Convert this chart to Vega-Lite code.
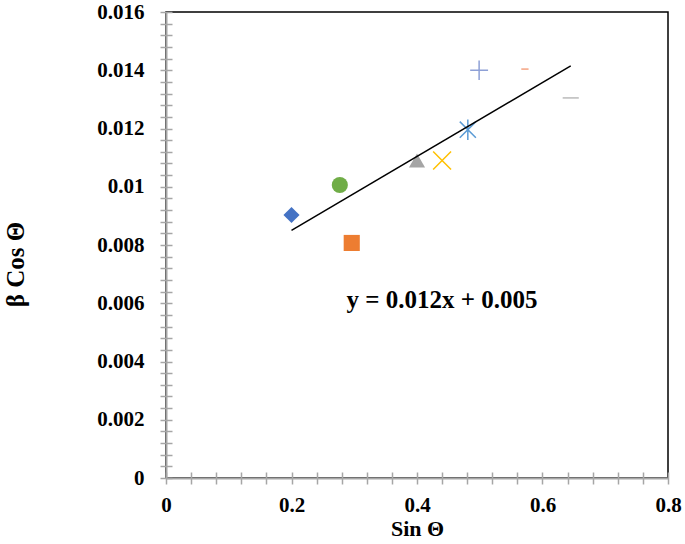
{
  "$schema": "https://vega.github.io/schema/vega-lite/v6.json",
  "width": 502,
  "height": 466,
  "autosize": {"type": "none"},
  "padding": {"left": 166, "top": 12, "right": 17, "bottom": 66},
  "background": "white",
  "config": {
    "view": {"stroke": "black", "strokeWidth": 1.5},
    "font": "Liberation Serif"
  },
  "data": {
    "values": [
      {"series": "diamond", "sin": 0.2, "beta": 0.00903},
      {"series": "square", "sin": 0.296, "beta": 0.00807},
      {"series": "circle", "sin": 0.277, "beta": 0.01006},
      {"series": "triangle", "sin": 0.4, "beta": 0.0109},
      {"series": "xmark", "sin": 0.44, "beta": 0.0109},
      {"series": "asterisk", "sin": 0.481, "beta": 0.01196},
      {"series": "plus", "sin": 0.499, "beta": 0.014},
      {"series": "reddash", "sin": 0.572, "beta": 0.01404},
      {"series": "graydash", "sin": 0.645, "beta": 0.01305}
    ]
  },
  "resolve": {"axis": {"x": "independent", "y": "independent"}},
  "layer": [
    {
      "transform": [{"filter": {"field": "series", "oneOf": ["diamond", "square", "circle", "triangle", "reddash", "graydash"]}}],
      "mark": {"type": "point", "filled": true, "opacity": 1, "size": 260},
      "encoding": {
        "x": {
          "field": "sin", "type": "quantitative",
          "scale": {"domain": [0, 0.8], "nice": false, "zero": true},
          "axis": {
            "orient": "bottom",
            "values": [0, 0.2, 0.4, 0.6, 0.8],
            "format": "~g",
            "grid": false,
            "ticks": false,
            "domainColor": "#A6A6A6",
            "domainWidth": 2,
            "labelFont": "Liberation Serif",
            "labelFontWeight": "bold",
            "labelFontSize": 21,
            "labelColor": "black",
            "labelPadding": 16,
            "labelFlush": false,
            "title": "Sin Θ",
            "titleFont": "Liberation Serif",
            "titleFontWeight": "bold",
            "titleFontSize": 22,
            "titleColor": "black",
            "titlePadding": 3
          }
        },
        "y": {
          "field": "beta", "type": "quantitative",
          "scale": {"domain": [0, 0.016], "nice": false, "zero": true},
          "axis": {
            "orient": "left",
            "values": [0, 0.002, 0.004, 0.006, 0.008, 0.01, 0.012, 0.014, 0.016],
            "format": "~g",
            "grid": false,
            "ticks": false,
            "domainColor": "#A6A6A6",
            "domainWidth": 2,
            "labelFont": "Liberation Serif",
            "labelFontWeight": "bold",
            "labelFontSize": 21,
            "labelColor": "black",
            "labelPadding": 22,
            "labelFlush": false,
            "title": "β Cos Θ",
            "titleFont": "Liberation Serif",
            "titleFontWeight": "bold",
            "titleFontSize": 25,
            "titleColor": "black",
            "titlePadding": 68,
            "titleY": 252
          }
        },
        "shape": {
          "field": "series", "type": "nominal", "legend": null,
          "scale": {
            "domain": ["diamond", "square", "circle", "triangle", "reddash", "graydash", "xmark", "asterisk", "plus"],
            "range": ["diamond", "square", "circle", "triangle-up", "M-0.45,-0.09H0.45V0.09H-0.45Z", "M-1,-0.1H1V0.1H-1Z", "M-1,-1L1,1M-1,1L1,-1", "M-0.9,-0.9L0.9,0.9M-0.9,0.9L0.9,-0.9M0,-1.15L0,1.15", "M-1,0H1M0,-1.1V1.1"]
          }
        },
        "color": {
          "field": "series", "type": "nominal", "legend": null,
          "scale": {
            "domain": ["diamond", "square", "circle", "triangle", "reddash", "graydash", "xmark", "asterisk", "plus"],
            "range": ["#4472C4", "#ED7D31", "#70AD47", "#A5A5A5", "#F4A07E", "#BFBFBF", "#FFC000", "#5B9BD5", "#8EA0D6"]
          }
        }
      }
    },
    {
      "transform": [{"filter": {"field": "series", "oneOf": ["xmark", "asterisk", "plus"]}}],
      "mark": {"type": "point", "filled": false, "opacity": 1, "size": 320, "strokeWidth": 1.5},
      "encoding": {
        "x": {
          "field": "sin", "type": "quantitative",
          "scale": {"domain": [0, 0.8], "nice": false, "zero": true},
          "axis": {
            "orient": "bottom",
            "values": [0, 0.04, 0.08, 0.12, 0.16, 0.2, 0.24, 0.28, 0.32, 0.36, 0.4, 0.44, 0.48, 0.52, 0.56, 0.6, 0.64, 0.68, 0.72, 0.76, 0.8],
            "grid": false,
            "domain": false,
            "labels": false,
            "ticks": true,
            "tickSize": 12,
            "tickWidth": 1.5,
            "tickColor": "#A6A6A6",
            "offset": -6,
            "title": null
          }
        },
        "y": {
          "field": "beta", "type": "quantitative",
          "scale": {"domain": [0, 0.016], "nice": false, "zero": true},
          "axis": {
            "orient": "left",
            "values": [0, 0.0004, 0.0008, 0.0012, 0.0016, 0.002, 0.0024, 0.0028, 0.0032, 0.0036, 0.004, 0.0044, 0.0048, 0.0052, 0.0056, 0.006, 0.0064, 0.0068, 0.0072, 0.0076, 0.008, 0.0084, 0.0088, 0.0092, 0.0096, 0.01, 0.0104, 0.0108, 0.0112, 0.0116, 0.012, 0.0124, 0.0128, 0.0132, 0.0136, 0.014, 0.0144, 0.0148, 0.0152, 0.0156, 0.016],
            "grid": false,
            "domain": false,
            "labels": false,
            "ticks": true,
            "tickSize": 12,
            "tickWidth": 1.5,
            "tickColor": "#A6A6A6",
            "offset": -6,
            "title": null
          }
        },
        "shape": {
          "field": "series", "type": "nominal", "legend": null,
          "scale": {
            "domain": ["diamond", "square", "circle", "triangle", "reddash", "graydash", "xmark", "asterisk", "plus"],
            "range": ["diamond", "square", "circle", "triangle-up", "M-0.45,-0.09H0.45V0.09H-0.45Z", "M-1,-0.1H1V0.1H-1Z", "M-1,-1L1,1M-1,1L1,-1", "M-0.9,-0.9L0.9,0.9M-0.9,0.9L0.9,-0.9M0,-1.15L0,1.15", "M-1,0H1M0,-1.1V1.1"]
          }
        },
        "color": {
          "field": "series", "type": "nominal", "legend": null,
          "scale": {
            "domain": ["diamond", "square", "circle", "triangle", "reddash", "graydash", "xmark", "asterisk", "plus"],
            "range": ["#4472C4", "#ED7D31", "#70AD47", "#A5A5A5", "#F4A07E", "#BFBFBF", "#FFC000", "#5B9BD5", "#8EA0D6"]
          }
        }
      }
    },
    {
      "transform": [{"regression": "beta", "on": "sin"}],
      "mark": {"type": "line", "color": "black", "strokeWidth": 1.5},
      "encoding": {
        "x": {"field": "sin", "type": "quantitative", "scale": {"domain": [0, 0.8], "nice": false}, "axis": null},
        "y": {"field": "beta", "type": "quantitative", "scale": {"domain": [0, 0.016], "nice": false}, "axis": null}
      }
    },
    {
      "data": {"values": [{"sin": 0.44, "beta": 0.00611, "label": "y = 0.012x + 0.005"}]},
      "mark": {"type": "text", "font": "Liberation Serif", "fontWeight": "bold", "fontSize": 25, "align": "center", "baseline": "middle", "color": "black"},
      "encoding": {
        "x": {"field": "sin", "type": "quantitative", "scale": {"domain": [0, 0.8], "nice": false}, "axis": null},
        "y": {"field": "beta", "type": "quantitative", "scale": {"domain": [0, 0.016], "nice": false}, "axis": null},
        "text": {"field": "label"}
      }
    }
  ]
}
